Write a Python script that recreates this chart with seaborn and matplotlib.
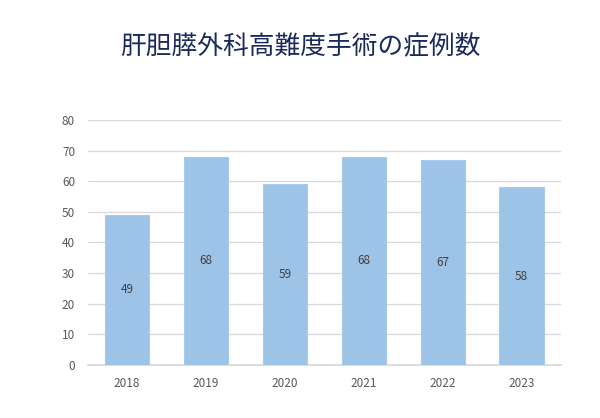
import numpy as np
import pandas as pd
import matplotlib
matplotlib.use("Agg")
import matplotlib.pyplot as plt
import seaborn as sns

# data
years = ['2018', '2019', '2020', '2021', '2022', '2023']
cases = [49, 68, 59, 68, 67, 58]
title = '肝胆膵外科高難度手術の症例数'

df = pd.DataFrame({'year': years, 'cases': cases})

sns.set_theme(style='white')
plt.rcParams['font.family'] = ['Noto Sans CJK JP', 'DejaVu Sans']

fig = plt.figure(figsize=(6, 4.18), dpi=100)
ax = fig.add_axes([0.146, 0.127, 0.789, 0.586])

sns.barplot(data=df, x='year', y='cases', color='#9dc3e6', width=0.56,
            saturation=1, edgecolor='#a9cbea', linewidth=0.8, ax=ax, zorder=3)

ax.set_ylim(0, 80)
ax.set_yticks(np.arange(0, 81, 10))
ax.set_xlim(-0.5, 5.5)
ax.yaxis.grid(True, color='#d9d9d9', linewidth=0.9, zorder=0)
ax.set_axisbelow(True)
sns.despine(ax=ax, left=True, top=True, right=True, bottom=False)
ax.spines['bottom'].set_color('#d9d9d9')
ax.set_xlabel('')
ax.set_ylabel('')
ax.tick_params(axis='both', colors='#595959', labelsize=8.5, length=0, pad=9)

for c in ax.containers:
    ax.bar_label(c, label_type='center', fontsize=8.5, color='#404040')

fig.text(0.5, 0.887, title, ha='center', va='center', fontsize=18.5,
         color='#1a2a5c')

fig.savefig('out.png', dpi=100)
